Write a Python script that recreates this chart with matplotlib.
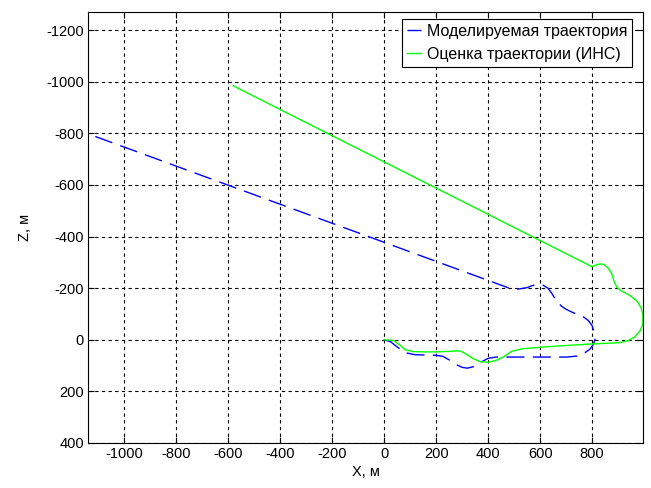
import matplotlib
matplotlib.use("Agg")
import matplotlib.pyplot as plt

plt.rcParams['font.family'] = ['Liberation Sans', 'DejaVu Sans']
plt.rcParams['axes.unicode_minus'] = False  # plain hyphen like in MATLAB

# Моделируемая траектория (X, Z)
model_x = [0, 25, 50, 81, 119, 160, 196, 225, 250, 275, 300, 320, 345, 370, 400,
           430, 560, 703, 742, 770, 792, 805, 811, 809, 800, 785, 765, 727, 700,
           680, 660, 645, 630, 610, 590, 570, 550, 520, 492, -1140]
model_z = [0, 8, 28, 50, 58, 59, 60, 64, 78, 95, 107, 110, 104, 88, 72,
           67, 67, 67, 63, 52, 36, 18, 0, -25, -55, -75, -90, -105, -118,
           -132, -155, -180, -200, -212, -214, -210, -202, -197, -196, -798]

# Оценка траектории (ИНС)
ins_x = [0, 36, 60, 81, 113, 160, 196, 250, 292, 315, 340, 369, 400, 430, 458,
         490, 530, 627, 720, 804, 870, 908, 940, 965, 985, 995, 996, 988, 973,
         945, 908, 895, 885, 875, 860, 845, 831, 815, 800, 646, -581]
ins_z = [0, 3, 20, 39, 46, 47, 47, 45, 43, 55, 72, 85, 87, 80, 67,
         45, 35, 27, 21, 16, 13, 11, 3, -12, -35, -60, -95, -125, -150,
         -172, -192, -205, -225, -258, -280, -292, -294, -290, -283, -361, -984]

x_ticks = [-1000, -800, -600, -400, -200, 0, 200, 400, 600, 800]
z_ticks = [-1200, -1000, -800, -600, -400, -200, 0, 200, 400]

fig = plt.figure(figsize=(6.51, 4.88), dpi=100)
ax = fig.add_axes([88 / 651, 1 - 443 / 488, (643 - 88) / 651, (443 - 12) / 488])

ax.plot(model_x, model_z, color='#0000ff', lw=1, dashes=(13, 6),
        label='Моделируемая траектория')
ax.plot(ins_x, ins_z, color='#00ff00', lw=1, label='Оценка траектории (ИНС)')

ax.set_xlim(-1140, 996)
ax.set_ylim(400, -1270)
ax.set_xticks(x_ticks)
ax.set_yticks(z_ticks)
ax.grid(True, color='black', linestyle=(0, (3, 3)), lw=0.8)
ax.tick_params(direction='in', top=True, right=True, labelsize=10.5, length=4, pad=3)
ax.set_xlabel('X, м', fontsize=10.5, labelpad=3)
ax.set_ylabel('Z, м', fontsize=10.5, labelpad=10)
for s in ax.spines.values():
    s.set_linewidth(0.8)

# legend box: right edge ~632 px, top ~19 px
leg = ax.legend(loc='upper right', bbox_to_anchor=(632 / 651, 1 - 19 / 488),
                bbox_transform=fig.transFigure, borderaxespad=0,
                fontsize=11.5, fancybox=False, framealpha=1, edgecolor='black',
                handlelength=0.9, handletextpad=0.35, borderpad=0.3,
                labelspacing=0.5)
leg.get_frame().set_linewidth(0.8)

fig.savefig('out.png', dpi=100)
